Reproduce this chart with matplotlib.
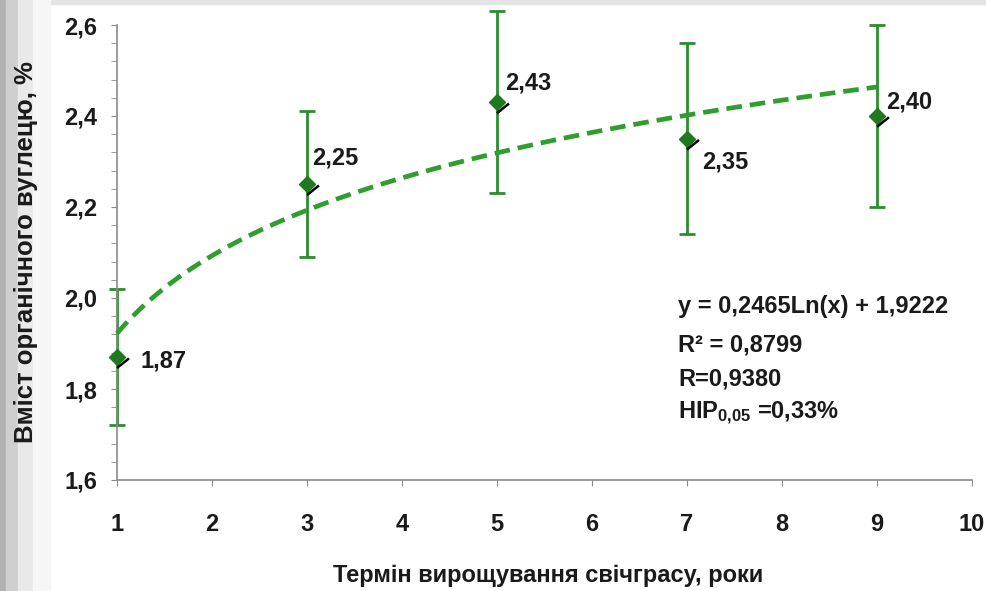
import numpy as np
import matplotlib
matplotlib.use("Agg")
import matplotlib.pyplot as plt
from matplotlib.patches import Rectangle
from matplotlib.ticker import MultipleLocator

plt.rcParams['font.family'] = ['Liberation Sans', 'DejaVu Sans']
plt.rcParams['font.weight'] = 'bold'
plt.rcParams['mathtext.fontset'] = 'custom'
plt.rcParams['mathtext.rm'] = 'Liberation Sans:bold'
plt.rcParams['mathtext.bf'] = 'Liberation Sans:bold'
plt.rcParams['mathtext.it'] = 'Liberation Sans:bold'

# Data
years = [1, 3, 5, 7, 9]
carbon = [1.87, 2.25, 2.43, 2.35, 2.40]
err = [0.15, 0.16, 0.20, 0.21, 0.20]
labels = ["1,87", "2,25", "2,43", "2,35", "2,40"]
trend_a = 0.2465
trend_b = 1.9222
xticks = [1, 2, 3, 4, 5, 6, 7, 8, 9, 10]
yticks = [1.6, 1.8, 2.0, 2.2, 2.4, 2.6]
ytick_labels = ["1,6", "1,8", "2,0", "2,2", "2,4", "2,6"]
stats_lines = ["y = 0,2465Ln(x) + 1,9222", "R² = 0,8799", "R=0,9380", r"HIP$_{0{,}05}$ =0,33%"]

W, H = 986, 591
FS = 17
fig = plt.figure(figsize=(W / 100, H / 100), dpi=100)
fig.patch.set_facecolor('white')

# background strips
fig.patches.append(Rectangle((0, 1 - 4 / H), 1, 4 / H, transform=fig.transFigure, color='#e4e4e4', zorder=-10))
for x0, w, c in [(0, 6, '#b2b2b2'), (6, 12, '#cfcfcf'), (18, 15, '#e9e9e9'), (33, 17, '#f6f6f6')]:
    fig.patches.append(Rectangle((x0 / W, 0), w / W, 1, transform=fig.transFigure, color=c, zorder=-10))

ax = fig.add_axes([117 / W, 1 - 480 / H, (972 - 117) / W, (480 - 25) / H])
ax.set_facecolor('none')
ax.set_xlim(1, 10)
ax.set_ylim(1.6, 2.6)

for s in ['top', 'right']:
    ax.spines[s].set_visible(False)
for s in ['left', 'bottom']:
    ax.spines[s].set_color('#8a8a8a')
    ax.spines[s].set_linewidth(1.2)

ax.set_xticks(xticks)
ax.set_xticklabels([str(v) for v in xticks])
ax.set_yticks(yticks)
ax.set_yticklabels(ytick_labels)
ax.yaxis.set_minor_locator(MultipleLocator(0.04))
ax.tick_params(axis='both', which='both', color='#8a8a8a', labelsize=FS, direction='out')
ax.tick_params(axis='y', which='major', length=4, pad=10)
ax.tick_params(axis='y', which='minor', length=4)
ax.tick_params(axis='x', which='major', length=4, pad=20)

# trend line
xt = np.linspace(1, 9, 200)
yt = trend_a * np.log(xt) + trend_b
ax.plot(xt, yt, color='#2f9e2f', lw=3.4, ls=(0, (3.3, 1.7)), zorder=3, clip_on=False)

# error bars and markers
ax.errorbar(years, carbon, yerr=err, fmt='none', ecolor='#2e8b2e', elinewidth=2,
            capsize=5.5, capthick=2, zorder=2, clip_on=False)
ax.plot(years, carbon, ls='none', marker='D', ms=8, color='#1f7a1f', zorder=4, clip_on=False)

# leader lines and labels
offsets = [(23, -4), (5, 26), (8, 19), (15, -23), (9, 14)]
inv = ax.transData.inverted()
for x, y, lab, (dx, dy) in zip(years, carbon, labels, offsets):
    p = ax.transData.transform((x, y))
    seg = np.array([[p[0] + 1, p[1] - 10], [p[0] + 11, p[1] - 2]])
    sd = inv.transform(seg)
    ax.plot(sd[:, 0], sd[:, 1], color='black', lw=1.8, zorder=5, clip_on=False)
    ax.annotate(lab, (x, y), xytext=(dx * 0.72, dy * 0.72), textcoords='offset points',
                ha='left', va='center', fontsize=FS, fontweight='bold', color='#1a1a1a')

# stats text
ys = [307, 345, 379, 413]
for line, yy in zip(stats_lines, ys):
    fig.text(678 / W, 1 - yy / H, line, ha='left', va='center', fontsize=FS,
             fontweight='bold', color='#1a1a1a')

ax.set_xlabel("Термін вирощування свічграсу, роки", fontsize=FS, fontweight='bold', color='#1a1a1a')
ax.xaxis.set_label_coords(0.504, -0.185)
ax.set_ylabel("Вміст органічного вуглецю, %", fontsize=18.5, fontweight='bold', color='#1a1a1a')
ax.yaxis.set_label_coords(-0.092, 0.5)

for t in ax.get_xticklabels() + ax.get_yticklabels():
    t.set_fontweight('bold')
    t.set_color('#1a1a1a')

fig.savefig('out.png', dpi=100)
